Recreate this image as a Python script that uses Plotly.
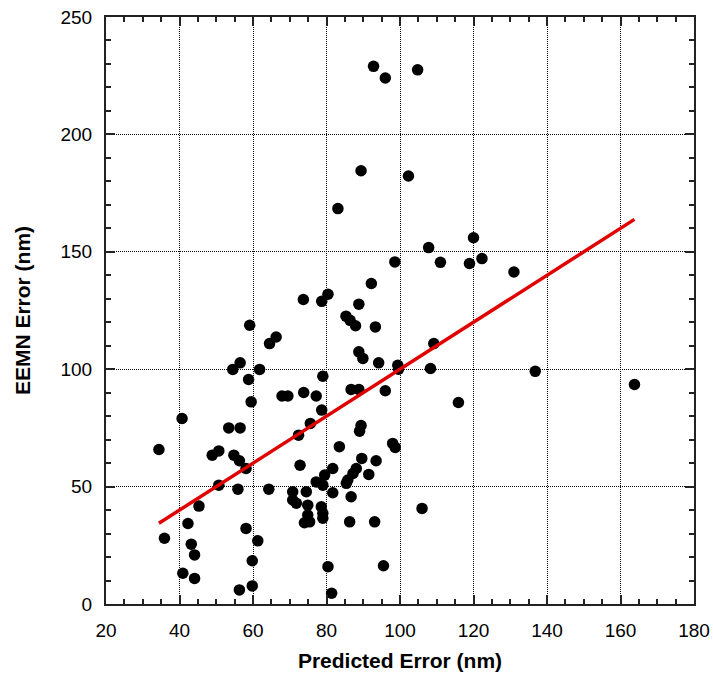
import numpy as np
import plotly.graph_objects as go

# Predicted error vs. measured EEMN error (nm)
predicted_nm = [
    92.8, 96.0, 104.8, 89.4, 102.3, 83.1, 107.8, 120.0, 118.9, 122.3,
    111.0, 131.0, 98.6, 92.2, 73.7, 78.7, 80.4, 88.8, 85.3, 86.4,
    87.9, 93.3, 59.1, 64.5, 66.3, 88.8, 89.9, 94.2, 99.4, 99.6,
    108.3, 109.2, 115.9, 136.8, 163.8, 106.0, 98.0, 98.7, 96.0, 54.5,
    56.5, 61.8, 58.8, 59.5, 79.0, 67.9, 69.5, 73.8, 77.2, 78.7,
    75.6, 72.4, 89.4, 89.0, 53.4, 56.5, 86.7, 88.8, 34.4, 40.7,
    48.9, 50.7, 54.8, 56.3, 58.1, 50.7, 55.9, 64.3, 45.3, 42.3,
    35.9, 43.2, 44.1, 58.1, 61.3, 59.8, 40.9, 44.1, 56.3, 59.8,
    83.5, 72.8, 89.6, 93.5, 81.7, 79.5, 77.2, 88.1, 87.2, 85.8,
    91.5, 85.4, 70.8, 74.5, 81.7, 79.0, 70.8, 71.8, 74.9, 78.6,
    86.7, 74.9, 79.0, 79.0, 74.0, 75.4, 86.3, 93.1, 80.4, 95.5,
    81.4,
]
eemn_nm = [
    229.0, 224.0, 227.5, 184.5, 182.3, 168.4, 151.8, 156.0, 145.0, 147.1,
    145.5, 141.4, 145.7, 136.5, 129.7, 128.9, 131.9, 127.7, 122.6, 120.8,
    118.5, 118.0, 118.7, 110.9, 113.7, 107.4, 104.6, 102.7, 101.7, 100.0,
    100.3, 110.9, 85.8, 99.1, 93.5, 40.7, 68.4, 66.7, 90.8, 99.9,
    102.7, 99.9, 95.6, 86.1, 97.0, 88.6, 88.6, 90.1, 88.6, 82.6,
    76.9, 71.9, 76.0, 73.6, 75.0, 75.0, 91.4, 91.4, 65.8, 79.0,
    63.4, 65.2, 63.4, 61.0, 57.7, 50.6, 48.9, 48.9, 41.7, 34.3,
    28.0, 25.5, 20.9, 32.2, 26.9, 18.4, 13.1, 10.9, 6.0, 7.7,
    67.0, 59.1, 62.0, 61.0, 57.7, 54.9, 52.0, 57.7, 55.6, 52.8,
    55.2, 51.4, 47.8, 47.8, 47.4, 50.6, 44.3, 42.9, 42.1, 41.4,
    45.7, 37.9, 38.6, 36.5, 34.6, 35.0, 35.0, 35.0, 15.9, 16.3,
    4.6,
]

# Reference line y = x over the span of predicted errors
line_slope = 1.0
line_intercept = 0.0
line_x = np.array([min(predicted_nm), max(predicted_nm)])
line_y = line_slope * line_x + line_intercept

x_ticks = [20, 40, 60, 80, 100, 120, 140, 160, 180]
y_ticks = [0, 50, 100, 150, 200, 250]

FONT = "Liberation Sans, Arial, sans-serif"
AXIS_COLOR = "#222222"

fig = go.Figure()
fig.add_trace(go.Scatter(
    x=predicted_nm, y=eemn_nm, mode="markers",
    marker=dict(color="black", size=11.5, line=dict(width=0)),
    showlegend=False,
))
fig.add_trace(go.Scatter(
    x=line_x, y=line_y, mode="lines",
    line=dict(color="#e00000", width=3.5),
    showlegend=False,
))

axis_common = dict(
    showline=True, linecolor=AXIS_COLOR, linewidth=2, mirror="allticks",
    ticks="inside", ticklen=9, tickwidth=2, tickcolor=AXIS_COLOR,
    showgrid=True, gridcolor="black", gridwidth=1, griddash="1px,1px",
    zeroline=False, automargin=False,
    tickfont=dict(family=FONT, size=19, color="black"),
    ticklabelstandoff=8,
)

fig.update_xaxes(
    range=[x_ticks[0], x_ticks[-1]], tickvals=x_ticks,
    minor=dict(dtick=5, ticks="inside", ticklen=5, tickwidth=2,
               tickcolor=AXIS_COLOR, showgrid=False),
    title=dict(text="<b>Predicted Error (nm)</b>",
               font=dict(family=FONT, size=21, color="black"), standoff=14),
    **axis_common,
)
fig.update_yaxes(
    range=[y_ticks[0], y_ticks[-1]], tickvals=y_ticks,
    minor=dict(dtick=10, ticks="inside", ticklen=5, tickwidth=2,
               tickcolor=AXIS_COLOR, showgrid=False),
    title=dict(text="<b>EEMN Error (nm)</b>",
               font=dict(family=FONT, size=21, color="black"), standoff=24),
    **axis_common,
)

fig.update_layout(
    width=713, height=677,
    margin=dict(l=106, r=19, t=17, b=73),
    paper_bgcolor="white", plot_bgcolor="white",
)

fig.write_html("out.html")
